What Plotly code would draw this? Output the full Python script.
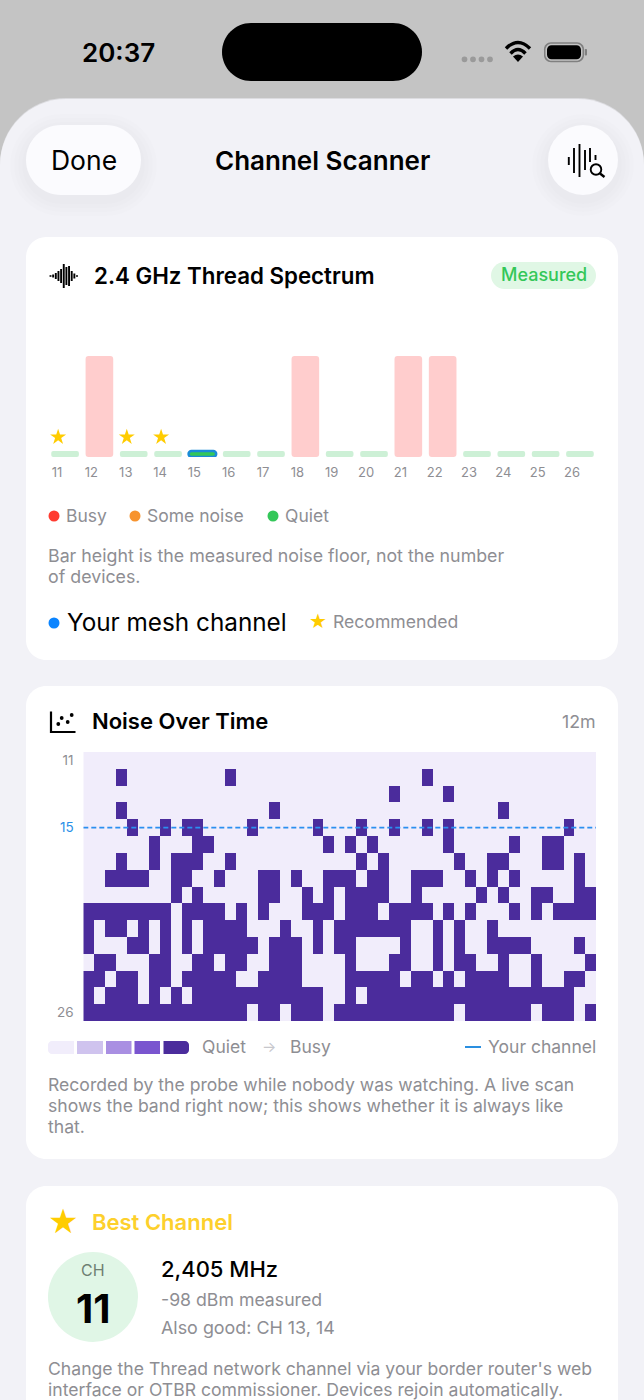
import plotly.graph_objects as go

W, H = 644, 1400

# --- spectrum card data
channels = list(range(11, 27))
noise_dbm = [-98, -66, -98, -98, -98, -98, -98, -66, -98, -98, -66, -66, -98, -98, -98, -98]
noise_state = ["quiet", "busy", "quiet", "quiet", "mesh", "quiet", "quiet", "busy",
               "quiet", "quiet", "busy", "busy", "quiet", "quiet", "quiet", "quiet"]
recommended = [11, 13, 14]
mesh_channel = 15
floor_dbm = -100

# --- noise over time data: busy sample columns for each channel, top row = ch 11
n_samples = 47
busy_11 = []
busy_12 = [3, 13, 31]
busy_13 = [28, 33]
busy_14 = [3, 17, 38]
busy_15 = [4, 7, 9, 10, 15, 21, 25, 28, 31, 33, 44]
busy_16 = [6, 10, 11, 22, 24, 26, 33, 39, 42, 43]
busy_17 = [3, 6, 8, 9, 10, 13, 25, 27, 34, 37, 38, 42, 43, 45]
busy_18 = [2, 3, 4, 5, 8, 9, 12, 16, 17, 19, 22, 23, 24, 26, 27, 30, 31, 32, 35, 37, 39, 45]
busy_19 = [8, 10, 16, 17, 20, 22, 24, 25, 26, 27, 30, 36, 38, 41, 42, 45, 46]
busy_20 = [0, 1, 2, 3, 4, 5, 6, 7, 9, 10, 11, 12, 14, 16, 20, 21, 22, 24, 25, 26, 28, 29, 30, 31,
           33, 35, 39, 41, 43, 44, 45, 46]
busy_21 = [0, 2, 3, 5, 7, 9, 11, 12, 13, 14, 18, 21, 23, 24, 25, 26, 27, 28, 29, 32, 34, 37]
busy_22 = [0, 4, 5, 7, 9, 11, 12, 13, 14, 15, 17, 18, 19, 21, 23, 24, 29, 32, 34, 37, 38, 39, 40, 45]
busy_23 = [1, 2, 6, 7, 10, 11, 13, 14, 17, 18, 19, 24, 28, 29, 32, 34, 35, 38, 41, 46]
busy_24 = [0, 1, 3, 4, 6, 7, 9, 10, 11, 12, 13, 16, 17, 18, 19, 24, 25, 26, 27, 28, 30, 31, 33,
           35, 36, 37, 38, 41, 44, 45]
busy_25 = [0, 2, 3, 4, 6, 8, 10, 11, 12, 13, 14, 15, 16, 17, 18, 19, 20, 21, 24, 26, 27, 28, 29,
           30, 31, 32, 33, 34, 35, 36, 37, 38, 39, 40, 41, 42, 43, 44]
busy_26 = [0, 1, 2, 3, 4, 5, 6, 7, 8, 9, 10, 11, 12, 13, 14, 16, 17, 19, 20, 21, 23, 24, 25, 26,
           27, 28, 29, 30, 31, 32, 33, 35, 36, 37, 38, 39, 40, 42, 43, 44, 46]
busy_rows = [busy_11, busy_12, busy_13, busy_14, busy_15, busy_16, busy_17, busy_18,
             busy_19, busy_20, busy_21, busy_22, busy_23, busy_24, busy_25, busy_26]
heat_ramp = ["#f1edfb", "#cfc3ee", "#a98fe2", "#7a55cf", "#4b2c9c"]

# legend labels
spectrum_legend = [("Busy", "#ff3b30", 54, 66), ("Some noise", "#f7932e", 135, 147), ("Quiet", "#34c759", 273, 285)]

GRAY = "#8e8e93"
GOLD = "#ffcc00"
BLUE = "#0a84ff"
FONT = "Inter"
K = 0.45  # how far corner handles pull away from the corner point


def px(x):
    return x / W


def py(y):
    return 1 - y / H


shapes = []
annotations = []


def rrect(x0, y0, x1, y1, r, fill, opacity=1, rr=None):
    # rounded rect, rr can give (tl, tr, br, bl) radii
    tl, tr, br, bl = rr if rr else (r, r, r, r)
    pts = [
        ("M", x0 + tl, y0), ("L", x1 - tr, y0),
        ("C", x1 - tr * K, y0, x1, y0 + tr * K, x1, y0 + tr),
        ("L", x1, y1 - br),
        ("C", x1, y1 - br * K, x1 - br * K, y1, x1 - br, y1),
        ("L", x0 + bl, y1),
        ("C", x0 + bl * K, y1, x0, y1 - bl * K, x0, y1 - bl),
        ("L", x0, y0 + tl),
        ("C", x0, y0 + tl * K, x0 + tl * K, y0, x0 + tl, y0),
    ]
    d = ""
    for p in pts:
        nums = p[1:]
        coords = [f"{px(nums[i]):.5f},{py(nums[i + 1]):.5f}" for i in range(0, len(nums), 2)]
        d += p[0] + " ".join(coords) + " "
    shapes.append(dict(type="path", path=d + "Z", xref="paper", yref="paper", fillcolor=fill,
                       opacity=opacity, line=dict(width=0), layer="below"))


def circle(cx, cy, r, fill, line=None, lw=0):
    shapes.append(dict(type="circle", xref="paper", yref="paper", x0=px(cx - r), x1=px(cx + r),
                       y0=py(cy - r), y1=py(cy + r), fillcolor=fill,
                       line=dict(width=lw, color=line or fill), layer="below"))


def stroke(points, color="#000000", lw=2):
    d = "M" + " L".join(f"{px(x):.5f},{py(y):.5f}" for x, y in points)
    shapes.append(dict(type="path", path=d, xref="paper", yref="paper",
                       line=dict(width=lw, color=color), layer="below"))


def curve(p0, c, p1, color="#000000", lw=3):
    d = f"M{px(p0[0]):.5f},{py(p0[1]):.5f} Q{px(c[0]):.5f},{py(c[1]):.5f} {px(p1[0]):.5f},{py(p1[1]):.5f}"
    shapes.append(dict(type="path", path=d, xref="paper", yref="paper",
                       line=dict(width=lw, color=color), layer="below"))


def text(s, x, y, size, color="#000000", anchor="left", weight=400, family=FONT):
    # -0.8 keeps the baseline where the screenshot has it
    annotations.append(dict(text=s, x=px(x), y=py(y - 0.8), xref="paper", yref="paper", showarrow=False,
                            xanchor=anchor, yanchor="middle", align=anchor, borderpad=0, borderwidth=0,
                            font=dict(size=size, color=color, family=family, weight=weight)))


# status bar and sheet
shapes.append(dict(type="rect", xref="paper", yref="paper", x0=0, x1=1, y0=0, y1=1,
                   fillcolor="#c4c4c4", line=dict(width=0), layer="below"))
rrect(0, 98, W, H + 80, 66, "#dcdce0")
rrect(0, 99, W, H + 80, 66, "#f2f2f7")
rrect(222, 23, 422, 81, 29, "#000000")
text("20:37", 119, 52.8, 26, "#000000", "center", 600)
for dot_x in [464.5, 473, 481.5, 490]:
    circle(dot_x, 59.3, 2.9, "#9a9a9a")
# wifi
curve((506, 48.5), (518, 36.5), (530, 48.5), lw=3.4)
curve((510.5, 53.5), (518, 45.5), (525.5, 53.5), lw=3.4)
shapes.append(dict(type="path", xref="paper", yref="paper", fillcolor="#000000", line=dict(width=0), layer="below",
                   path=f"M{px(518):.5f},{py(62):.5f} L{px(513):.5f},{py(56.5):.5f} Q{px(518):.5f},{py(52.5):.5f} {px(523):.5f},{py(56.5):.5f} Z"))
# battery
rrect(544, 42.3, 584, 62.3, 7, "#808080")
rrect(545.5, 43.8, 582.5, 60.8, 6, "#c4c4c4")
rrect(547, 45.3, 581, 59.3, 4.5, "#000000")
rrect(584.7, 49, 587, 55.5, 1, "#808080")

# nav buttons, soft shadows first
for grow, op in [(16, 0.006), (12, 0.007), (8, 0.008), (4, 0.009)]:
    rrect(26 - grow, 125 - grow + 5, 141 + grow, 195 + grow + 5, 35 + grow, "#000000", op)
    rrect(548 - grow, 125 - grow + 5, 618 + grow, 195 + grow + 5, 35 + grow, "#000000", op)
rrect(26, 125, 141, 195, 35, "#fbfbfe")
circle(583, 160, 35, "#fbfbfe")
text("Done", 84, 161, 26.5, "#000000", "center")
text("Channel Scanner", 322, 161, 26, "#000000", "center", 600)
for lx, ly0, ly1 in [(568.8, 157, 165), (574, 148, 173), (579.5, 144, 177), (585, 150, 170), (590, 148, 162), (595.5, 155, 160)]:
    stroke([(lx, ly0), (lx, ly1)], lw=1.9)
circle(596, 169.5, 5.3, "#fbfbfe", "#000000", 1.9)
stroke([(600, 173.5), (604.5, 177)], lw=2.4)

# cards
rrect(26, 237, 618, 660, 20, "#ffffff")
rrect(26, 686, 618, 1159, 20, "#ffffff")
rrect(26, 1186, 618, H + 60, 20, "#ffffff")

# spectrum card chrome
for i, half in enumerate([0.8, 1.5, 3, 5, 7, 12, 9, 10, 5, 2.5, 0.8]):
    stroke([(50.5 + i * 2.65, 276 - half), (50.5 + i * 2.65, 276 + half)], lw=1.9)
text("2.4 GHz Thread Spectrum", 94, 276, 22.3, "#000000", "left", 600)
rrect(491, 262, 596, 289, 13.5, "#e0f7e5")
text("Measured", 543.5, 275.5, 18, "#34c759", "center", 500)
for label, dot_color, dot_x, label_x in spectrum_legend:
    circle(dot_x, 516, 5.5, dot_color)
    text(label, label_x, 516, 17.5, GRAY)
text("Bar height is the measured noise floor, not the number", 48, 556, 17.8, GRAY)
text("of devices.", 48, 577, 17.8, GRAY)
circle(54, 623, 5.5, BLUE)
text("Your mesh channel", 67, 623, 24.3, "#000000")
text("★", 318, 622, 20, GOLD, "center", family="DejaVu Sans")
text("Recommended", 333, 622.5, 17.6, GRAY)

# noise card chrome
stroke([(51, 711.5), (51, 732), (75.5, 732)], lw=2.2)
for dx, dy in [(58.3, 724), (61.7, 718), (67.7, 722), (71.7, 715)]:
    circle(dx, dy, 1.9, "#000000")
text("Noise Over Time", 92, 722, 22, "#000000", "left", 600)
text("12m", 596, 722, 17.8, GRAY, "right")
swatch_x = [(48, 74), (77, 103), (106, 131.5), (134.5, 160), (163.5, 189)]
for i, (sx0, sx1) in enumerate(swatch_x):
    radii = (4, 0, 0, 4) if i == 0 else (0, 4, 4, 0) if i == 4 else (0.1, 0.1, 0.1, 0.1)
    rrect(sx0, 1041, sx1, 1054, 0, heat_ramp[i], rr=radii)
text("Quiet", 202, 1047, 17.5, GRAY)
text("→", 269, 1047, 15, "#c7c7cc", "center")
text("Busy", 290, 1047, 17.5, GRAY)
stroke([(465, 1047), (481, 1047)], color="#2a8fe0", lw=2)
text("Your channel", 596, 1047, 17.5, GRAY, "right")
text("Recorded by the probe while nobody was watching. A live scan", 48, 1085, 17.6, GRAY)
text("shows the band right now; this shows whether it is always like", 48, 1106, 17.6, GRAY)
text("that.", 48, 1127, 17.6, GRAY)

# best channel card
text("★", 63, 1222, 34, GOLD, "center", family="DejaVu Sans")
text("Best Channel", 92, 1223, 22, "#fdd02c", "left", 600)
circle(93, 1297, 45, "#e0f6e6")
text("CH", 93, 1271, 16, "#6f7f73", "center")
text("11", 93, 1309, 40, "#000000", "center", 700)
text("2,405 MHz", 161, 1270, 22, "#000000", "left", 500)
text("-98 dBm measured", 161, 1300, 17.7, GRAY)
text("Also good: CH 13, 14", 161, 1328, 17.9, GRAY)
text("Change the Thread network channel via your border router's web", 48, 1369, 17.6, GRAY)
text("interface or OTBR commissioner. Devices rejoin automatically.", 48, 1390, 17.6, GRAY)

# traces
state_fill = {"busy": "#ffcdcd", "quiet": "#cdf0d6", "mesh": "#34c759"}
fig = go.Figure()
fig.add_trace(go.Bar(
    x=channels,
    y=[n - floor_dbm for n in noise_dbm],
    base=floor_dbm,
    width=0.805,
    offset=-0.17,
    marker=dict(
        color=[state_fill[s] for s in noise_state],
        line=dict(color=["#1a8bd8" if c == mesh_channel else "rgba(0,0,0,0)" for c in channels],
                  width=[2.5 if c == mesh_channel else 0 for c in channels]),
    ),
    xaxis="x", yaxis="y", hoverinfo="skip",
))
fig.add_trace(go.Scatter(
    x=[c + 0.03 for c in recommended],
    y=[noise_dbm[channels.index(c)] + 4.7 for c in recommended],
    mode="markers",
    marker=dict(symbol="star", size=12, color=GOLD),
    xaxis="x", yaxis="y", hoverinfo="skip",
))

z = [[4 if col in row else 0 for col in range(n_samples)] for row in busy_rows]
fig.add_trace(go.Heatmap(
    x=list(range(n_samples)), y=channels, z=z, zmin=0, zmax=4,
    colorscale=[[i / 4, c] for i, c in enumerate(heat_ramp)],
    showscale=False, xaxis="x2", yaxis="y2", hoverinfo="skip",
))
fig.add_trace(go.Scatter(
    x=[-0.5, n_samples - 0.5], y=[mesh_channel, mesh_channel], mode="lines",
    line=dict(color="#2b8ff0", width=1.6, dash="5px,3px"),
    xaxis="x2", yaxis="y2", hoverinfo="skip",
))

fig.update_layout(
    width=W, height=H,
    margin=dict(l=0, r=0, t=0, b=0),
    paper_bgcolor="#c4c4c4",
    plot_bgcolor="rgba(0,0,0,0)",
    showlegend=False,
    barcornerradius=3,
    shapes=shapes,
    annotations=annotations,
    font=dict(family=FONT),
    xaxis=dict(domain=[px(48), px(596)], range=[10.735, 26.70], anchor="y",
               tickmode="array", tickvals=channels, ticktext=[str(c) for c in channels],
               ticks="outside", ticklen=3, tickcolor="rgba(0,0,0,0)",
               tickfont=dict(size=13, color=GRAY, family=FONT),
               showgrid=False, zeroline=False, showline=False),
    yaxis=dict(domain=[py(457), py(356)], range=[floor_dbm, -66], anchor="x", visible=False,
               showgrid=False, zeroline=False),
    xaxis2=dict(domain=[px(83.3), px(596)], range=[-0.5, n_samples - 0.5], anchor="y2", visible=False,
                showgrid=False, zeroline=False),
    yaxis2=dict(domain=[py(1021), py(752)], range=[26.5, 10.5], anchor="x2",
                tickmode="array", tickvals=[11, mesh_channel, 26],
                ticktext=["11", f'<span style="color:#2a8fe8">{mesh_channel}</span>', "26"],
                ticks="outside", ticklen=6, tickcolor="rgba(0,0,0,0)",
                tickfont=dict(size=13.5, color=GRAY, family=FONT),
                showgrid=False, zeroline=False, showline=False),
)

fig.write_html("out.html", config=dict(displayModeBar=False),
               post_script="document.body.style.margin='0';document.body.style.overflow='hidden';")
